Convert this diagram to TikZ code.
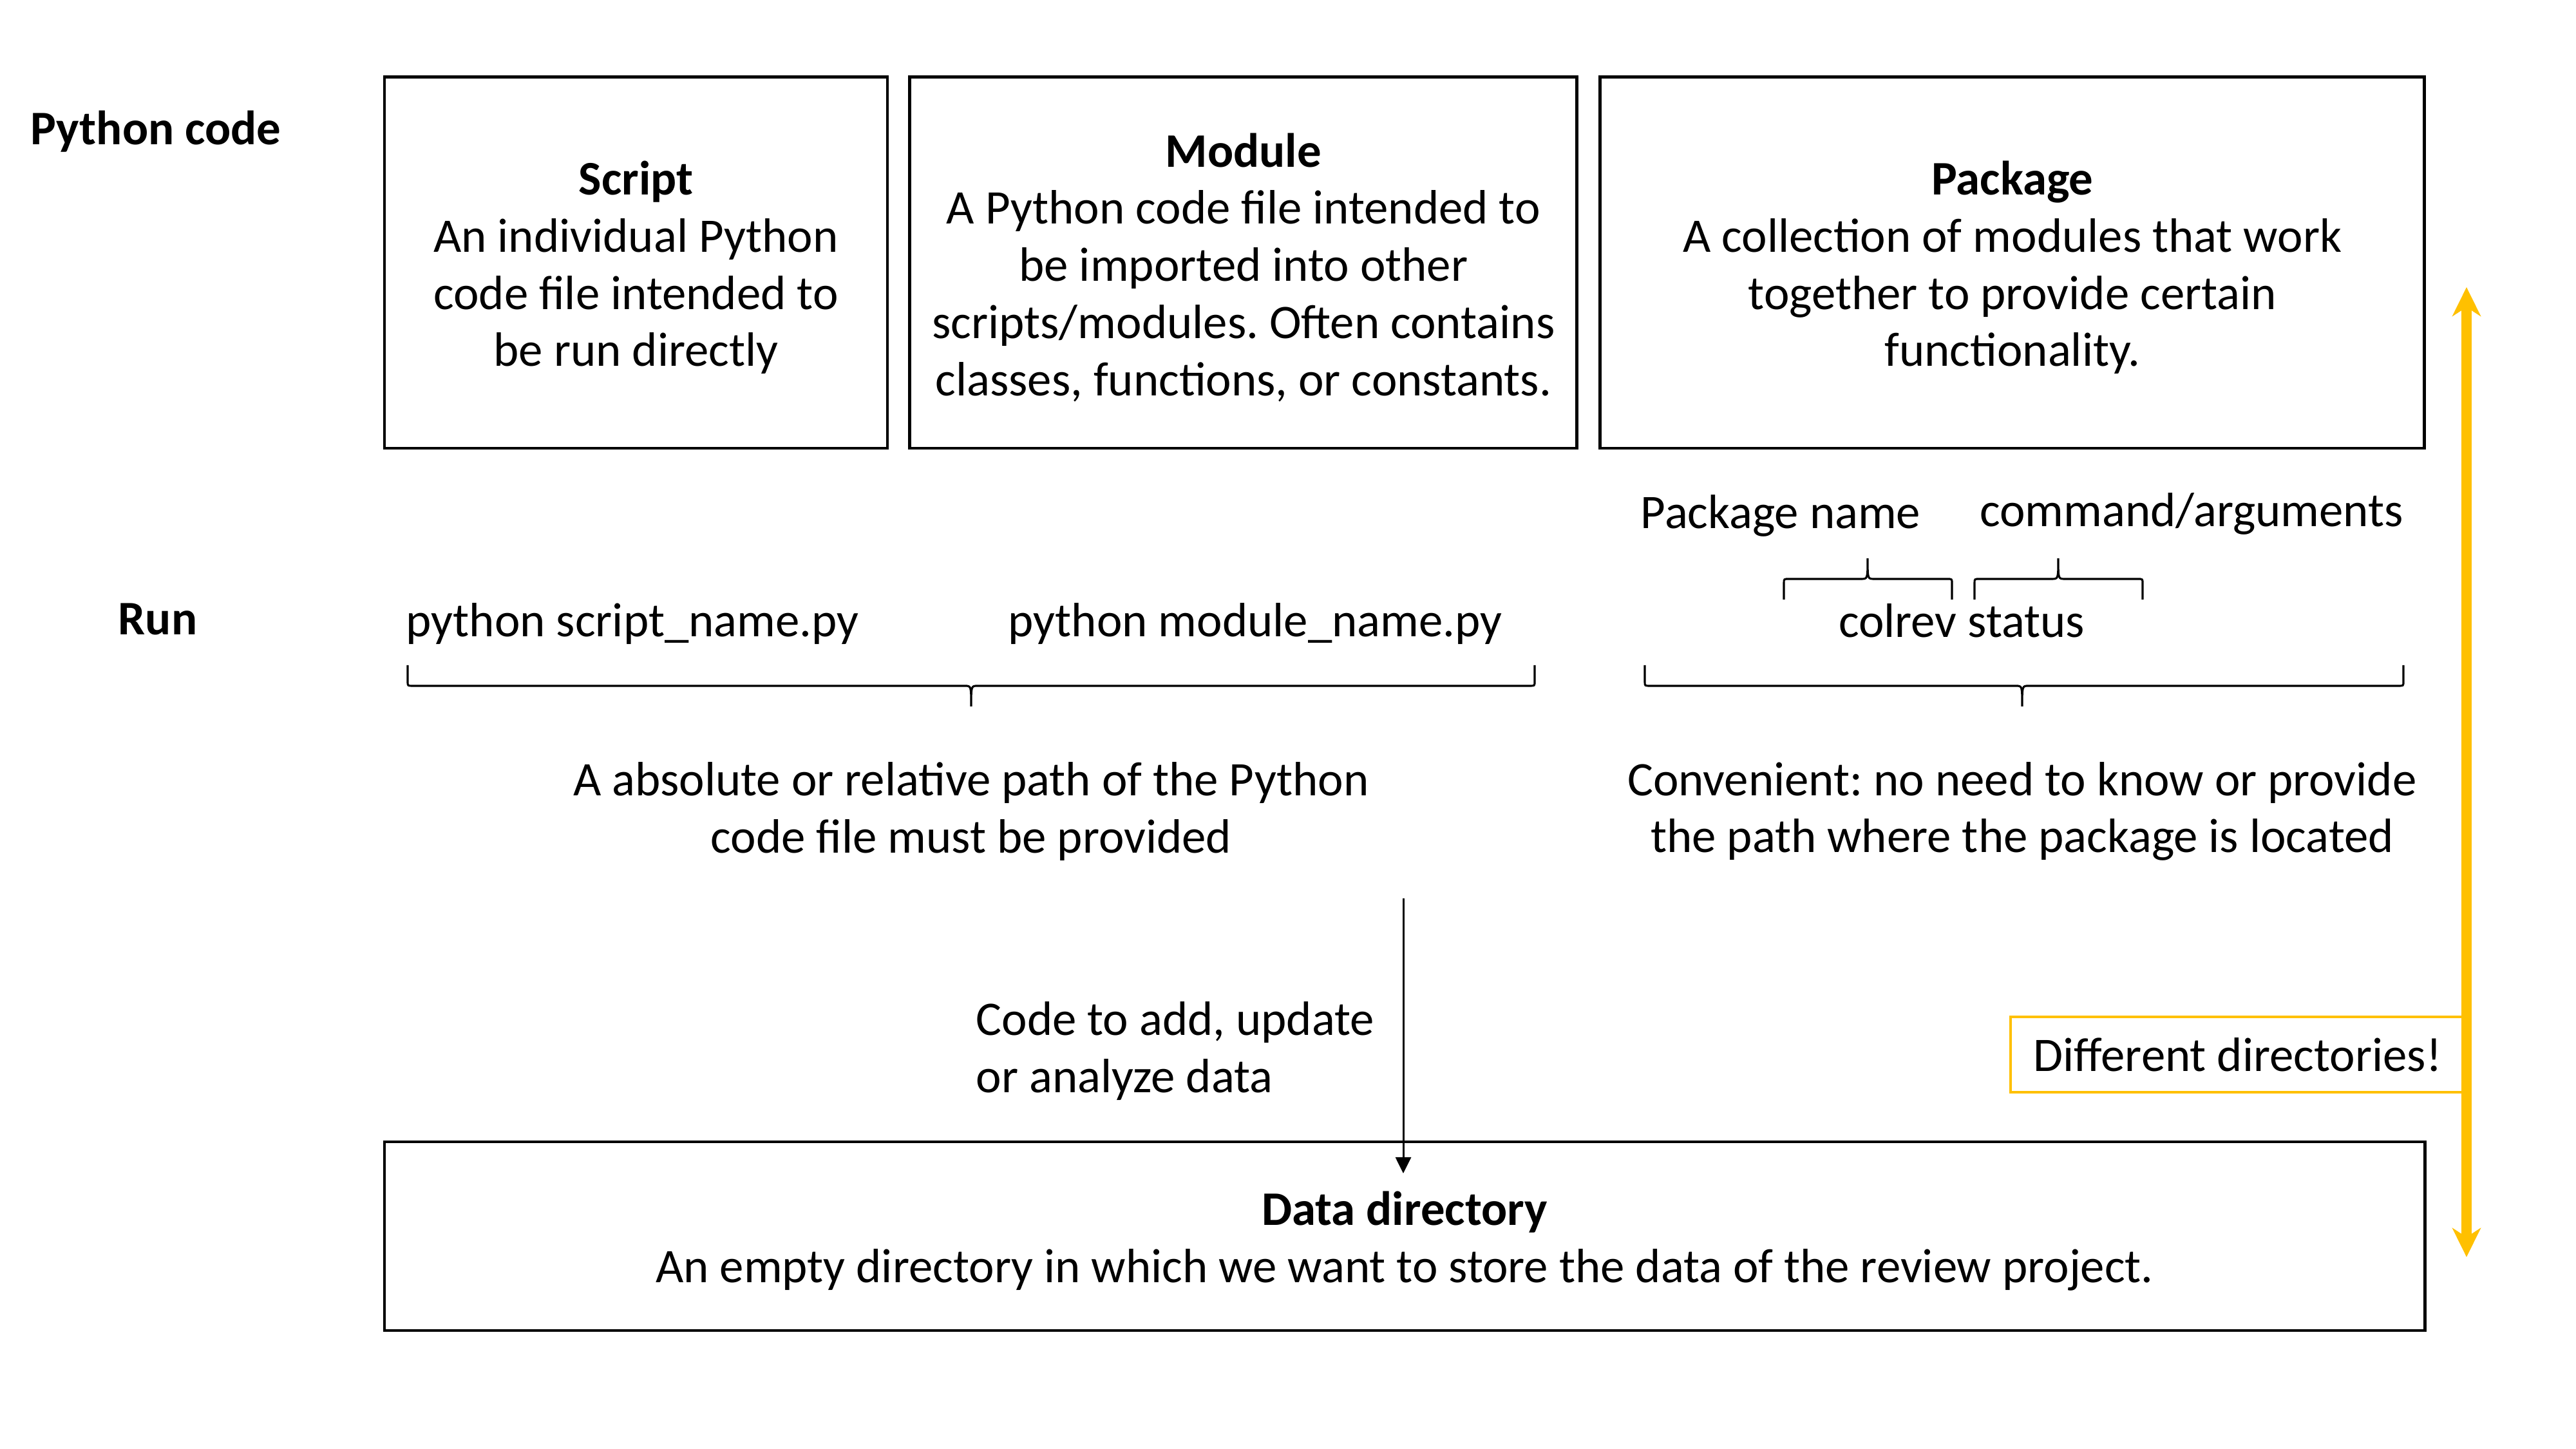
\documentclass[tikz,border=0pt]{standalone}
\usepackage{fontspec}
\setmainfont{Carlito}
\usetikzlibrary{arrows.meta,positioning}
\definecolor{gold}{HTML}{FFC000}
\frenchspacing

% curly brace: left end, right end, tip x, end y, tip y
\newcommand{\curly}[5]{%
  \pgfmathsetmacro\bracemid{(#4+#5)/2}
  \pgfmathsetmacro\braceknee{#4+0.8*(#5-#4)/2}
  \draw[brace line] (#1,#4) -- (#1,\braceknee) .. controls (#1,\bracemid) .. (#1+0.08,\bracemid)
    -- (#3-0.1,\bracemid) .. controls (#3,\bracemid) .. (#3,#5)
    .. controls (#3,\bracemid) .. (#3+0.1,\bracemid)
    -- (#2-0.08,\bracemid) .. controls (#2,\bracemid) .. (#2,\braceknee) -- (#2,#4);
}
\newcommand{\titlestrut}{\rule{0pt}{0.9em}}

\begin{document}
\begin{tikzpicture}[
        every node/.style={font=\fontsize{21.3}{25.3}\selectfont},
        codebox/.style={draw, line width=1.4pt, align=center, minimum height=5.76cm, inner sep=0pt},
        heading/.style={font=\fontsize{21.3}{25.3}\selectfont\bfseries},
        brace line/.style={line width=0.9pt},
        dirline/.style={draw=gold, line width=4.3pt,
          {Stealth[length=4.5mm,width=4.4mm,inset=1.4mm]}-{Stealth[length=4.5mm,width=4.4mm,inset=1.4mm]}}
    ]
    \useasboundingbox (0,0) rectangle (40,22.5);

    % Python code boxes
    \node[codebox, minimum width=7.81cm] (script) at (9.875,18.42)
      {\titlestrut\textbf{Script}\\An individual Python\\code file intended to\\be run directly};
    \node[codebox, minimum width=10.36cm, right=0.30cm of script] (module)
      {\titlestrut\textbf{Module}\\A Python code file intended to\\be imported into other\\scripts/modules. Often contains\\classes, functions, or constants.};
    \node[codebox, minimum width=12.8cm, right=0.31cm of module] (package)
      {\titlestrut\textbf{Package}\\A collection of modules that work\\together to provide certain\\functionality.};

    % Row labels
    \node[heading] (pycode) at (2.42,20.46) {Python code};
    \node[heading] (run) at (2.45,12.88) {Run};

    % Run commands
    \node (runscript) at (9.82,12.81) {python script\_name.py};
    \node (runmodule) at (19.49,12.81) {python module\_name.py};
    \node (colrev) at (30.46,12.86) {colrev status};
    \node (pkgname) at (27.65,14.49) {Package name};
    \node (cmdargs) at (34.03,14.52) {command/arguments};

    % Braces
    \curly{6.33}{23.83}{15.08}{12.17}{11.53}
    \curly{25.54}{37.32}{31.40}{12.17}{11.53}
    \curly{27.70}{30.31}{29.00}{13.19}{13.83}
    \curly{30.66}{33.27}{31.96}{13.19}{13.83}

    % Notes
    \node[align=center] (pathnote) at (15.08,9.90)
      {A absolute or relative path of the Python\\code file must be provided};
    \node[align=center] (convnote) at (31.40,9.90)
      {Convenient: no need to know or provide\\the path where the package is located};
    \node[align=left, anchor=west, inner sep=0pt] (codenote) at (15.15,6.18)
      {Code to add, update\\or analyze data};

    % Data directory
    \node[codebox, minimum width=31.68cm, minimum height=2.93cm] (data) at (21.81,3.305)
      {\titlestrut\textbf{Data directory}\\An empty directory in which we want to store the data of the review project.};

    % Code arrow
    \coordinate (codetop) at (21.79,8.55);
    \coordinate (codeend) at (21.79,4.28);
    \draw[line width=0.85pt, -{Triangle[length=2.5mm,width=2.4mm]}] (codetop) -- (codeend);

    % Different directories
    \node[draw=gold, line width=1.3pt, minimum width=7.05cm, minimum height=1.17cm] (diffdirs)
      at (34.745,6.125) {Different directories!};
    \coordinate (dirtop) at (38.30,18.04);
    \coordinate (dirbot) at (38.30,2.98);
    \draw[dirline] (dirtop) -- (dirbot);
\end{tikzpicture}
\end{document}
